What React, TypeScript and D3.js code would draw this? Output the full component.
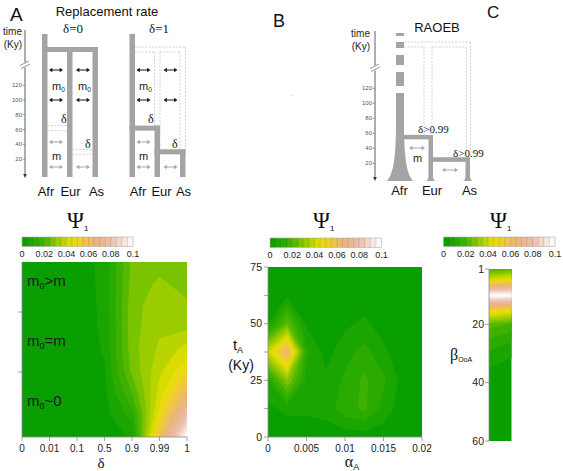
import React from "react";
import * as d3 from "d3";

const SANS = "'Liberation Sans', Arial, Helvetica, sans-serif";
const SERIF = "'Liberation Serif', 'Times New Roman', serif";

// ---------- colour scale of Psi_1 ----------
const psiBreaks = [0, 0.005, 0.01, 0.015, 0.02, 0.025, 0.03, 0.035, 0.04, 0.045, 0.05, 0.055, 0.06, 0.065, 0.07, 0.075, 0.08, 0.085, 0.09, 0.095, 0.1];
const psiTicks = [0, 0.02, 0.04, 0.06, 0.08, 0.1];
const psiTickLabels = ["0", "0.02", "0.04", "0.06", "0.08", "0.1"];
const psiColorDomain = [0, 0.02, 0.03, 0.045, 0.055, 0.065, 0.08, 0.1];
const psiColorRange = ["#009c00", "#44b400", "#8cc800", "#e8e000", "#f0c840", "#e8b478", "#ecbcac", "#ffffff"];

// ---------- panel A (replacement rate) ----------
const deltaLabels = ["0", "0.01", "0.1", "0.5", "0.9", "0.99", "1"];
const migrationLabels = [
  { a: "m", sub: "0", b: ">m" },
  { a: "m", sub: "0", b: "=m" },
  { a: "m", sub: "0", b: "~0" },
];
// rows top (m0>m) -> bottom (m0~0), columns follow deltaLabels
const psiReplacement = [
  [0.002, 0.002, 0.002, 0.0066, 0.026, 0.028, 0.027],
  [0.002, 0.002, 0.002, 0.0065, 0.027, 0.031, 0.028],
  [0.002, 0.002, 0.002, 0.0062, 0.028, 0.033, 0.031],
  [0.002, 0.002, 0.002, 0.006, 0.028, 0.034, 0.034],
  [0.002, 0.002, 0.002, 0.0055, 0.028, 0.036, 0.042],
  [0.002, 0.002, 0.002, 0.0045, 0.026, 0.039, 0.05],
  [0.002, 0.002, 0.002, 0.0035, 0.02, 0.042, 0.063],
  [0.002, 0.002, 0.002, 0.003, 0.012, 0.047, 0.08],
  [0.002, 0.002, 0.002, 0.003, 0.0055, 0.058, 0.1],
];

// ---------- panel B (RAOEB) ----------
const alphaA = [0, 0.0025, 0.005, 0.0075, 0.01, 0.0125, 0.015, 0.0175, 0.02];
const alphaTicks = [0, 0.005, 0.01, 0.015, 0.02];
const alphaTickLabels = ["0", "0.005", "0.01", "0.015", "0.02"];
const tA = [75, 62.5, 50, 37.5, 25, 12.5, 0]; // rows top -> bottom
const tATicks = [0, 12.5, 25, 37.5, 50, 62.5, 75];
const tATickLabels = [0, 25, 50, 75];
const psiRAOEB = [
  [0.002, 0.002, 0.002, 0.002, 0.002, 0.002, 0.002, 0.002, 0.002],
  [0.002, 0.004, 0.002, 0.002, 0.002, 0.002, 0.002, 0.002, 0.002],
  [0.005, 0.024, 0.004, 0.002, 0.004, 0.006, 0.003, 0.002, 0.002],
  [0.04, 0.065, 0.011, 0.003, 0.008, 0.012, 0.006, 0.002, 0.002],
  [0.01, 0.03, 0.008, 0.006, 0.011, 0.016, 0.011, 0.003, 0.002],
  [0.004, 0.006, 0.006, 0.007, 0.013, 0.016, 0.008, 0.002, 0.002],
  [0.002, 0.002, 0.002, 0.002, 0.002, 0.002, 0.002, 0.002, 0.002],
];

// ---------- panel C (beta OoA) ----------
const betaOoA = [0, 5, 10, 15, 20, 25, 30, 35, 40, 45, 50, 55, 60];
const betaTicks = [1, 20, 40, 60];
const psiBeta = [
  [0.014, 0.016],
  [0.043, 0.049],
  [0.1, 0.1],
  [0.052, 0.048],
  [0.022, 0.019],
  [0.015, 0.011],
  [0.009, 0.006],
  [0.005, 0.003],
  [0.002, 0.002],
  [0.002, 0.002],
  [0.002, 0.002],
  [0.002, 0.002],
  [0.002, 0.002],
];

// ---------- schematic diagrams ----------
const timeTicks = [20, 40, 60, 80, 100, 120];
const splitEurA = 62;
const splitAsA = 30;
const splitEurB = 55;
const splitAsB = 25;

const colorScale = d3
  .scaleLinear<string>()
  .domain(psiColorDomain)
  .range(psiColorRange)
  .interpolate(d3.interpolateRgb);
const bandColor = (i: number) => colorScale((psiBreaks[i] + psiBreaks[i + 1]) / 2);

const barGray = "#a4a4a4";
const dashGray = "#c6c6c6";
const axisGray = "#8a8a8a";

function Contours({ values, x0, x1, y0, y1, clip }: any) {
  const ny = values.length;
  const nx = values[0].length;
  const flat: number[] = values.flat();
  const cs = d3.contours().size([nx, ny]).thresholds(psiBreaks.slice(0, -1))(flat);
  const sx = d3.scaleLinear().domain([0, nx - 1]).range([x0, x1]);
  const sy = d3.scaleLinear().domain([0, ny - 1]).range([y0, y1]);
  const proj = d3.geoTransform({
    point(this: any, x: number, y: number) {
      this.stream.point(sx(x - 0.5), sy(y - 0.5));
    },
  });
  const path = d3.geoPath(proj as any);
  return (
    <g>
      <clipPath id={clip}>
        <rect x={Math.min(x0, x1)} y={Math.min(y0, y1)} width={Math.abs(x1 - x0)} height={Math.abs(y1 - y0)} />
      </clipPath>
      <g clipPath={`url(#${clip})`}>
        {cs.map((c, i) => (
          <path key={i} d={path(c as any) || ""} fill={bandColor(i)} stroke={bandColor(i)} strokeWidth={0.3} />
        ))}
      </g>
    </g>
  );
}

function ColorBar({ x0, x1, y, h }: any) {
  const s = d3.scaleLinear().domain([0, 0.1]).range([x0, x1]);
  return (
    <g>
      {psiBreaks.slice(0, -1).map((b, i) => (
        <rect key={i} x={s(b)} y={y} width={s(psiBreaks[i + 1]) - s(b) + 0.3} height={h} fill={bandColor(i)} />
      ))}
      {psiBreaks.slice(1, -1).map((b, i) => (
        <line key={"l" + i} x1={s(b)} x2={s(b)} y1={y} y2={y + h} stroke="#000" strokeOpacity={0.2} strokeWidth={0.6} />
      ))}
      <rect x={x0} y={y} width={x1 - x0} height={h} fill="none" stroke="#b0b0b0" strokeWidth={0.6} />
      {psiTicks.map((t, i) => (
        <text key={"t" + i} x={s(t)} y={y + h + 10} fontSize={9} textAnchor="middle" fontFamily={SANS} fill="#222">
          {psiTickLabels[i]}
        </text>
      ))}
    </g>
  );
}

function PsiTitle({ x, y }: any) {
  return (
    <text x={x} y={y} fontFamily={SERIF} fontSize={23} fill="#111">
      Ψ
      <tspan fontSize={8} dy={3} fontFamily={SANS}>
        1
      </tspan>
    </text>
  );
}

function DArrow({ x1, x2, y, color }: any) {
  const h = 3.4;
  const w = 2.2;
  return (
    <g>
      <line x1={x1 + 2} x2={x2 - 2} y1={y} y2={y} stroke={color} strokeWidth={1} />
      <path d={`M${x1},${y}L${x1 + h},${y - w}L${x1 + h},${y + w}Z`} fill={color} />
      <path d={`M${x2},${y}L${x2 - h},${y - w}L${x2 - h},${y + w}Z`} fill={color} />
    </g>
  );
}

function TimeAxis({ x, yTop, yBot, scale, breakY, tx, ty }: any) {
  return (
    <g fontFamily={SANS}>
      <line x1={x} x2={x} y1={yTop} y2={yBot - 3} stroke="#333" strokeWidth={0.8} />
      <path d={`M${x - 1.8},${yBot - 4}L${x + 1.8},${yBot - 4}L${x},${yBot}Z`} fill="#333" />
      <rect x={x - 3} y={breakY - 2.5} width={6} height={5} fill="#fff" />
      <line x1={x - 5} y1={breakY + 0.5} x2={x + 4} y2={breakY - 4} stroke="#666" strokeWidth={0.7} />
      <line x1={x - 4} y1={breakY + 3.5} x2={x + 5} y2={breakY - 1} stroke="#666" strokeWidth={0.7} />
      {timeTicks.map((t) => (
        <g key={t}>
          <line x1={x - 2.5} x2={x} y1={scale(t)} y2={scale(t)} stroke="#666" strokeWidth={0.6} />
          <text x={x - 3} y={scale(t) + 2} fontSize={6} textAnchor="end" fill="#555">
            {t}
          </text>
        </g>
      ))}
      <text x={tx} y={ty} fontSize={10} textAnchor="end" fill="#222">
        time
      </text>
      <text x={tx} y={ty + 13} fontSize={10} textAnchor="end" fill="#222">
        (Ky)
      </text>
    </g>
  );
}

function Dash({ x1, y1, x2, y2 }: any) {
  return <line x1={x1} y1={y1} x2={x2} y2={y2} stroke={dashGray} strokeWidth={0.8} strokeDasharray="2,1.4" />;
}

function M0({ x, y, size = 11 }: any) {
  return (
    <text x={x} y={y} fontSize={size} fontFamily={SANS} fill="#222">
      m<tspan fontSize={size * 0.6} dy={2}>0</tspan>
    </text>
  );
}

function DiagramA() {
  const yA = d3.scaleLinear().domain([0, 120]).range([174, 85.2]);
  const bw = 5.5;
  const bottom = 177;
  const yE = yA(splitEurA);
  const yS = yA(splitAsA);
  const off = 87.5;
  const black = "#1a1a1a";
  const grayA = "#a8a8a8";
  return (
    <g>
      <TimeAxis x={25} yTop={30} yBot={178} scale={yA} breakY={65} tx={22} ty={35} />
      {/* delta = 0 */}
      <text x={73} y={33} fontFamily={SERIF} fontSize={13} textAnchor="middle" fill="#111">
        δ=0
      </text>
      <rect x={42} y={34} width={bw} height={bottom - 34} fill={barGray} />
      <rect x={42} y={47} width={98 - 42} height={5} fill={barGray} />
      <rect x={67} y={47} width={bw} height={bottom - 47} fill={barGray} />
      <rect x={92.5} y={47} width={bw} height={bottom - 47} fill={barGray} />
      <Dash x1={47.5} x2={67} y1={yE - 2.5} y2={yE - 2.5} />
      <Dash x1={47.5} x2={67} y1={yE + 2.5} y2={yE + 2.5} />
      <Dash x1={72.5} x2={92.5} y1={yS - 2.5} y2={yS - 2.5} />
      <Dash x1={72.5} x2={92.5} y1={yS + 2.5} y2={yS + 2.5} />
      <DArrow x1={49} x2={63} y={70} color={black} />
      <DArrow x1={76} x2={90} y={70} color={black} />
      <DArrow x1={49} x2={63} y={100} color={black} />
      <DArrow x1={76} x2={90} y={100} color={black} />
      <M0 x={52} y={90} />
      <M0 x={78} y={90} />
      <text x={61} y={yE - 5} fontFamily={SERIF} fontSize={12} fill="#111">δ</text>
      <text x={85} y={yS - 4} fontFamily={SERIF} fontSize={12} fill="#111">δ</text>
      <DArrow x1={49} x2={63} y={142} color={grayA} />
      <text x={52} y={160} fontSize={11} fontFamily={SANS} fill="#222">m</text>
      <DArrow x1={49} x2={63} y={167} color={grayA} />
      <DArrow x1={76} x2={90} y={167} color={grayA} />
      {/* delta = 1 */}
      <text x={159} y={33} fontFamily={SERIF} fontSize={13} textAnchor="middle" fill="#111">
        δ=1
      </text>
      <rect x={42 + off} y={34} width={bw} height={bottom - 34} fill={barGray} />
      <Dash x1={135} x2={185.5} y1={47} y2={47} />
      <Dash x1={135} x2={154.5} y1={52} y2={52} />
      <Dash x1={160} x2={180} y1={52} y2={52} />
      <Dash x1={154.5} x2={154.5} y1={52} y2={yE - 2.5} />
      <Dash x1={160} x2={160} y1={52} y2={yS - 2.5} />
      <Dash x1={180} x2={180} y1={52} y2={yS - 2.5} />
      <Dash x1={185.5} x2={185.5} y1={47} y2={yS - 2.5} />
      <rect x={42 + off} y={yE - 2.5} width={160 - 129.5} height={5} fill={barGray} />
      <rect x={154.5} y={yE - 2.5} width={bw} height={bottom - yE + 2.5} fill={barGray} />
      <rect x={154.5} y={yS - 2.5} width={185.5 - 154.5} height={5} fill={barGray} />
      <rect x={180} y={yS - 2.5} width={bw} height={bottom - yS + 2.5} fill={barGray} />
      <DArrow x1={49 + off} x2={63 + off} y={70} color={black} />
      <DArrow x1={76 + off} x2={90 + off} y={70} color={black} />
      <DArrow x1={49 + off} x2={63 + off} y={100} color={black} />
      <DArrow x1={76 + off} x2={90 + off} y={100} color={black} />
      <M0 x={139} y={90} />
      <text x={148} y={yE - 5} fontFamily={SERIF} fontSize={12} fill="#111">δ</text>
      <text x={172} y={yS - 4} fontFamily={SERIF} fontSize={12} fill="#111">δ</text>
      <DArrow x1={49 + off} x2={63 + off} y={142} color={grayA} />
      <text x={139} y={160} fontSize={11} fontFamily={SANS} fill="#222">m</text>
      <DArrow x1={49 + off} x2={63 + off} y={167} color={grayA} />
      <DArrow x1={76 + off} x2={90 + off} y={167} color={grayA} />
      {/* population labels */}
      <g fontFamily={SANS} fontSize={13} textAnchor="middle" fill="#111">
        <text x={46} y={196}>Afr</text>
        <text x={70.5} y={196}>Eur</text>
        <text x={96.5} y={196}>As</text>
        <text x={138} y={196}>Afr</text>
        <text x={161.5} y={196}>Eur</text>
        <text x={183.5} y={196}>As</text>
      </g>
    </g>
  );
}

function DiagramB() {
  const yB = d3.scaleLinear().domain([0, 120]).range([178.3, 88.3]);
  const base = 181;
  const yE = yB(splitEurB);
  const yS = yB(splitAsB);
  const grayA = "#a8a8a8";
  const trunkSegs = [
    [33, 36],
    [42, 48],
    [55, 65],
    [72, 86],
  ];
  return (
    <g>
      <TimeAxis x={375} yTop={31} yBot={181} scale={yB} breakY={68} tx={370} ty={37} />
      <text x={437} y={32} fontFamily={SANS} fontSize={13} textAnchor="middle" fill="#111">
        RAOEB
      </text>
      {/* ghost (dashed) branches */}
      <Dash x1={404} x2={470.5} y1={42} y2={42} />
      <Dash x1={404} x2={424} y1={47} y2={47} />
      <Dash x1={432} x2={466.5} y1={47} y2={47} />
      <Dash x1={424} x2={424} y1={47} y2={yE - 2.2} />
      <Dash x1={432} x2={432} y1={47} y2={yE - 2.2} />
      <Dash x1={466.5} x2={466.5} y1={47} y2={yS - 2.3} />
      <Dash x1={470.5} x2={470.5} y1={42} y2={yS - 2.3} />
      {/* Africa trunk */}
      {trunkSegs.map(([a, b], i) => (
        <rect key={i} x={396} y={a} width={8} height={b - a} fill={barGray} />
      ))}
      <path
        d={`M396,93 L396,122 C396,160 393,174 387,${base} L413,${base} C407,174 404,160 404,122 L404,93 Z`}
        fill={barGray}
      />
      {/* Eurasian branches */}
      <rect x={403} y={yE - 2.2} width={433 - 403} height={4.5} fill={barGray} />
      <path d={`M428.5,${yE} L428.5,176 Q428.5,180 426,${base} L435.5,${base} Q433,180 433,176 L433,${yE} Z`} fill={barGray} />
      <rect x={433} y={yS - 2.3} width={470 - 433} height={4.6} fill={barGray} />
      <path d={`M465.5,${yS} L465.5,176 Q465.5,180 463,${base} L472.5,${base} Q470,180 470,176 L470,${yS} Z`} fill={barGray} />
      <text x={418} y={yE - 4} fontFamily={SERIF} fontSize={11} fill="#111">δ&gt;0.99</text>
      <text x={453} y={yS - 3} fontFamily={SERIF} fontSize={11} fill="#111">δ&gt;0.99</text>
      <DArrow x1={409} x2={425} y={148} color={grayA} />
      <text x={413} y={162} fontSize={11} fontFamily={SANS} fill="#222">m</text>
      <DArrow x1={442} x2={458} y={170} color={grayA} />
      <g fontFamily={SANS} fontSize={13} textAnchor="middle" fill="#111">
        <text x={399.5} y={195}>Afr</text>
        <text x={432} y={195}>Eur</text>
        <text x={469.5} y={195}>As</text>
      </g>
      <circle cx={292} cy={95} r={0.6} fill="#999" />
    </g>
  );
}

function PanelABottom() {
  const x0 = 22, x1 = 187, y0 = 262, y1 = 437;
  const xs = d3.scalePoint<string>().domain(deltaLabels).range([x0, x1]);
  const ys = d3.scaleBand<number>().domain(migrationLabels.map((_, i) => i)).range([252, 432]);
  const bounds = [1, 2].map((i) => ys(i) as number);
  return (
    <g>
      <PsiTitle x={67} y={228} />
      <ColorBar x0={22} x1={133} y={237} h={9.5} />
      <Contours values={psiReplacement} x0={x0} x1={x1} y0={y0} y1={y1} clip="clipA" />
      <line x1={x0} x2={x0} y1={y0} y2={y1} stroke={axisGray} strokeWidth={0.8} />
      <line x1={x0} x2={x1} y1={y1} y2={y1} stroke={axisGray} strokeWidth={0.8} />
      {bounds.map((b, i) => (
        <line key={i} x1={x0 - 4} x2={x0} y1={b} y2={b} stroke={axisGray} strokeWidth={0.8} />
      ))}
      {deltaLabels.map((d) => (
        <g key={d}>
          <line x1={xs(d)} x2={xs(d)} y1={y1} y2={y1 + 4} stroke={axisGray} strokeWidth={0.8} />
          <text x={xs(d)} y={452} fontSize={10} textAnchor="middle" fontFamily={SANS} fill="#222">
            {d}
          </text>
        </g>
      ))}
      {migrationLabels.map((m, i) => (
        <text key={i} x={27} y={(ys(i) as number) + ys.bandwidth() / 2 + 4} fontSize={15} fontFamily={SANS} fill="#1a1a1a">
          {m.a}
          <tspan fontSize={9} dy={3}>{m.sub}</tspan>
          <tspan dy={-3}>{m.b}</tspan>
        </text>
      ))}
      <text x={101} y={468} fontFamily={SERIF} fontSize={15} textAnchor="middle" fill="#111">
        δ
      </text>
    </g>
  );
}

function PanelBBottom() {
  const xB = d3.scaleLinear().domain([0, 0.02]).range([268, 422]);
  const yB = d3.scaleLinear().domain([0, 75]).range([437, 267]);
  return (
    <g>
      <PsiTitle x={313} y={228} />
      <ColorBar x0={270} x1={381.5} y={238} h={9.5} />
      <Contours
        values={psiRAOEB}
        x0={xB(alphaA[0])}
        x1={xB(alphaA[alphaA.length - 1])}
        y0={yB(tA[0])}
        y1={yB(tA[tA.length - 1])}
        clip="clipB"
      />
      <line x1={268} x2={268} y1={yB(75)} y2={yB(0)} stroke={axisGray} strokeWidth={0.8} />
      <line x1={268} x2={422} y1={yB(0)} y2={yB(0)} stroke={axisGray} strokeWidth={0.8} />
      {tATicks.map((t) => (
        <line key={t} x1={264} x2={268} y1={yB(t)} y2={yB(t)} stroke={axisGray} strokeWidth={0.8} />
      ))}
      {tATickLabels.map((t) => (
        <text key={t} x={262} y={yB(t) + 3.5} fontSize={10.5} textAnchor="end" fontFamily={SANS} fill="#222">
          {t}
        </text>
      ))}
      {alphaTicks.map((a, i) => (
        <g key={a}>
          <line x1={xB(a)} x2={xB(a)} y1={437} y2={441} stroke={axisGray} strokeWidth={0.8} />
          <text x={xB(a)} y={452} fontSize={10} textAnchor="middle" fontFamily={SANS} fill="#222">
            {alphaTickLabels[i]}
          </text>
        </g>
      ))}
      <text x={352} y={467} textAnchor="middle" fill="#111">
        <tspan fontFamily={SERIF} fontSize={16}>α</tspan>
        <tspan fontFamily={SANS} fontSize={9} dy={3}>A</tspan>
      </text>
      <text x={238} y={350} textAnchor="middle" fontFamily={SANS} fill="#111">
        <tspan fontSize={15}>t</tspan>
        <tspan fontSize={9} dy={3}>A</tspan>
      </text>
      <text x={241} y={370} textAnchor="middle" fontFamily={SANS} fontSize={14} fill="#111">
        (Ky)
      </text>
    </g>
  );
}

function PanelCBottom() {
  const yC = d3.scaleLinear().domain([1, 60]).range([269, 441]);
  const xl = 489, xr = 511.5;
  return (
    <g>
      <PsiTitle x={490} y={228} />
      <ColorBar x0={443.5} x1={555} y={237} h={9.5} />
      <clipPath id="clipC0">
        <rect x={xl} y={yC(1)} width={xr - xl} height={yC(60) - yC(1)} />
      </clipPath>
      <g clipPath="url(#clipC0)">
        <Contours
          values={psiBeta}
          x0={xl}
          x1={xr}
          y0={yC(betaOoA[0])}
          y1={yC(betaOoA[betaOoA.length - 1])}
          clip="clipC"
        />
      </g>
      <line x1={xl} x2={xl} y1={yC(1)} y2={yC(60)} stroke={axisGray} strokeWidth={0.8} />
      {betaTicks.map((b) => (
        <g key={b}>
          <line x1={xl - 4} x2={xl} y1={yC(b)} y2={yC(b)} stroke={axisGray} strokeWidth={0.8} />
          <text x={xl - 5} y={yC(b) + 3.5} fontSize={10.5} textAnchor="end" fontFamily={SANS} fill="#222">
            {b}
          </text>
        </g>
      ))}
      <text x={450} y={360} fill="#111">
        <tspan fontFamily={SERIF} fontSize={16}>β</tspan>
        <tspan fontFamily={SANS} fontSize={7} dy={2}>OoA</tspan>
      </text>
    </g>
  );
}

export default function App() {
  return (
    <svg
      width={563}
      height={471}
      viewBox="0 0 563 471"
      style={{ position: "absolute", left: 0, top: 0, background: "#fff" }}
    >
      <rect x={0} y={0} width={563} height={471} fill="#fff" />
      <g fontFamily={SANS} fill="#111">
        <text x={10} y={21} fontSize={19}>A</text>
        <text x={273} y={27} fontSize={18}>B</text>
        <text x={487} y={18} fontSize={17}>C</text>
        <text x={107} y={16} fontSize={13} textAnchor="middle">Replacement rate</text>
      </g>
      <DiagramA />
      <DiagramB />
      <PanelABottom />
      <PanelBBottom />
      <PanelCBottom />
    </svg>
  );
}
